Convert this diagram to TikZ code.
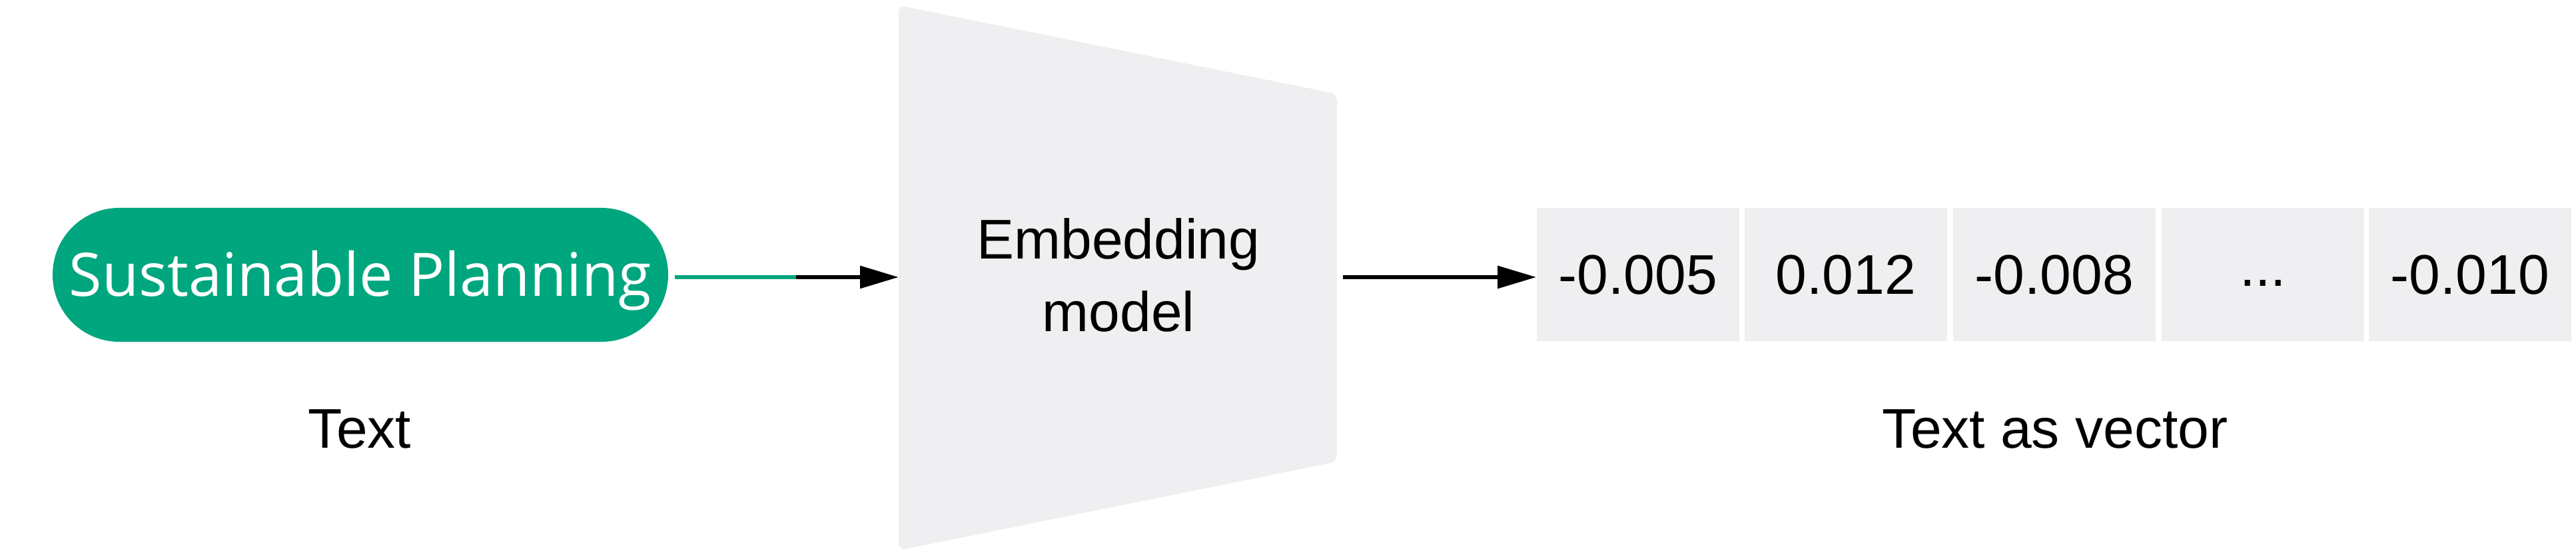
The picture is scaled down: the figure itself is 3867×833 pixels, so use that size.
\documentclass[tikz,border=0pt]{standalone}
\usepackage{fontspec}
\setmainfont{Liberation Sans}
\newfontfamily\pillfont{Open Sans}
\usetikzlibrary{arrows.meta}
\definecolor{oagreen}{RGB}{0,166,126}
\definecolor{panel}{RGB}{239,239,241}
\tikzset{
  lbl/.style={font=\fontsize{21pt}{27.25pt}\selectfont, inner sep=0pt},
  cell/.style={fill=panel, minimum width=76pt, minimum height=50pt, inner sep=0pt,
               font=\fontsize{21pt}{25pt}\selectfont, text height=15pt, text depth=0pt},
  pill/.style={fill=oagreen, text=white, rounded corners=25pt, minimum width=231pt,
               minimum height=50.25pt, inner sep=0pt, text height=16pt, text depth=0pt,
               font=\pillfont\fontsize{22.5pt}{26pt}\selectfont},
  conn/.style={line width=1.5pt, -{Triangle[length=14.5pt,width=8.25pt]}},
}
\begin{document}
\begin{tikzpicture}[x=0.25pt,y=-0.25pt]
\useasboundingbox (0,0) rectangle (3867,833);
% input text
\node[pill] (pill) at (541,412.5) {Sustainable Planning};
\node[lbl, anchor=base] (lblText) at (540,672) {Text};
% embedding model trapezoid
\fill[panel, rounded corners=2.5pt] (1349,8) -- (2007,141) -- (2007,693) -- (1349,826) -- cycle;
\node[lbl, align=center] (model) at (1679,413) {Embedding\\model};
\coordinate (trapL) at (1349,416);
\coordinate (trapR) at (2016,416);
\coordinate (gEnd) at (1195,416);
% vector cells
\node[cell] (c1) at (2459,412) {-0.005};
\node[cell] (c2) at (2771,412) {0.012};
\node[cell] (c3) at (3084,412) {-0.008};
\node[cell] (c4) at (3397,412) {\raisebox{3pt}{...}};
\node[cell] (c5) at (3708,412) {-0.010};
\node[lbl, anchor=base] (lblVec) at (3085,672) {Text as vector};
% connectors
\draw[conn] ([xshift=2.25pt]pill.east |- trapL) -- (trapL);
\draw[line width=1.5pt, oagreen] ([xshift=2.25pt]pill.east |- trapL) -- (gEnd);
\draw[conn] (trapR) -- (c1.west |- trapR);
\end{tikzpicture}
\end{document}
